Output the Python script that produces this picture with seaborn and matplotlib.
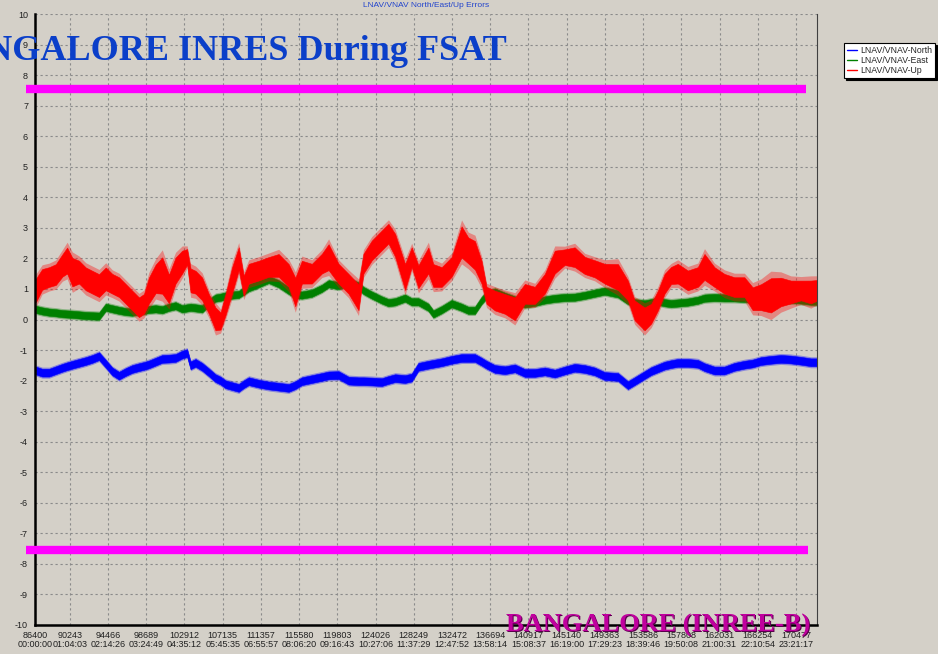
import numpy as np
import pandas as pd
import matplotlib
matplotlib.use("Agg")
import matplotlib.pyplot as plt
import seaborn as sns
from matplotlib.ticker import MultipleLocator, FixedLocator

#%% Data (seconds, metres)

t_sec = [86500, 87190, 87970, 88700, 89430, 89950, 90530, 91270, 92010, 92740,
         93480, 94220, 94940, 95680, 96420, 97150, 97890, 98440, 98990, 99730,
         100460, 101200, 101930, 102660, 103210, 103590, 104140, 104870, 105610, 106340,
         106900, 107450, 108170, 108910, 109460, 110020, 111120, 112220, 113320, 114430,
         115160, 115890, 116990, 118100, 118840, 119940, 121040, 122140, 122690, 123610,
         124710, 125450, 126190, 127290, 128020, 128760, 129860, 130410, 131330, 132430,
         133530, 134270, 135010, 135740, 136290, 137210, 138320, 139420, 140520, 141620,
         142730, 143830, 144930, 146030, 147140, 148240, 149340, 150810, 151910, 152650,
         153750, 154480, 155220, 155960, 156680, 157420, 158530, 159630, 160370, 161470,
         162570, 163670, 164780, 165690, 166610, 167710, 168810, 169910, 171020, 172120,
         172750]

up_mid = [0.95, 1.31, 1.39, 1.47, 1.77, 1.93, 1.55, 1.55, 1.33, 1.22,
          1.11, 1.33, 1.17, 1.06, 0.84, 0.62, 0.40, 0.51, 0.95, 1.33,
          1.44, 1.00, 1.60, 1.88, 2.05, 1.28, 1.22, 1.00, 0.51, 0.02,
          -0.05, 0.48, 1.28, 1.99, 1.11, 1.50, 1.60, 1.72, 1.77, 1.44,
          0.90, 1.55, 1.50, 1.83, 2.04, 1.50, 1.17, 0.73, 1.83, 2.26,
          2.59, 2.81, 2.43, 1.39, 2.04, 1.40, 1.93, 1.44, 1.39, 1.72,
          2.54, 2.26, 2.10, 1.55, 0.79, 0.62, 0.51, 0.35, 0.84, 0.79,
          1.17, 1.88, 2.04, 2.04, 1.77, 1.66, 1.50, 1.39, 0.95, 0.30,
          0.02, 0.19, 0.62, 1.17, 1.44, 1.50, 1.28, 1.39, 1.72, 1.39,
          1.17, 1.06, 1.06, 0.68, 0.73, 0.79, 0.90, 0.90, 0.95, 0.90,
          0.95]

up_half = [0.45, 0.40, 0.38, 0.40, 0.43, 0.50, 0.55, 0.44, 0.44, 0.44,
           0.44, 0.44, 0.38, 0.38, 0.38, 0.38, 0.38, 0.38, 0.50, 0.55,
           0.70, 0.55, 0.50, 0.44, 0.30, 0.46, 0.44, 0.44, 0.38, 0.44,
           0.33, 0.40, 0.50, 0.44, 0.38, 0.38, 0.38, 0.38, 0.44, 0.44,
           0.55, 0.44, 0.38, 0.38, 0.50, 0.38, 0.38, 0.50, 0.38, 0.38,
           0.38, 0.38, 0.44, 0.50, 0.38, 0.44, 0.50, 0.44, 0.38, 0.38,
           0.60, 0.50, 0.55, 0.44, 0.33, 0.38, 0.38, 0.44, 0.38, 0.33,
           0.38, 0.44, 0.30, 0.38, 0.33, 0.33, 0.38, 0.50, 0.38, 0.38,
           0.44, 0.38, 0.38, 0.38, 0.33, 0.38, 0.38, 0.38, 0.50, 0.38,
           0.38, 0.38, 0.38, 0.44, 0.50, 0.66, 0.55, 0.44, 0.38, 0.44,
           0.40]

east_mid = [0.33, 0.28, 0.24, 0.22, 0.19, 0.18, 0.17, 0.15, 0.13, 0.12,
            0.11, 0.40, 0.35, 0.30, 0.26, 0.24, 0.28, 0.30, 0.33, 0.35,
            0.32, 0.40, 0.45, 0.35, 0.38, 0.40, 0.38, 0.35, 0.55, 0.70,
            0.73, 0.77, 0.80, 0.82, 0.93, 1.04, 1.17, 1.31, 1.17, 0.95,
            0.82, 0.80, 0.86, 1.02, 1.17, 1.11, 1.22, 1.10, 0.95, 0.80,
            0.64, 0.55, 0.58, 0.70, 0.58, 0.58, 0.40, 0.18, 0.32, 0.52,
            0.40, 0.30, 0.30, 0.62, 0.80, 0.90, 0.76, 0.64, 0.51, 0.56,
            0.64, 0.69, 0.72, 0.73, 0.79, 0.86, 0.93, 0.84, 0.62, 0.55,
            0.51, 0.55, 0.60, 0.55, 0.52, 0.54, 0.57, 0.63, 0.70, 0.72,
            0.71, 0.71, 0.69, 0.67, 0.66, 0.66, 0.66, 0.66, 0.64, 0.60,
            0.60]

north_mid = [-1.67, -1.74, -1.74, -1.66, -1.58, -1.53, -1.48, -1.42, -1.36, -1.29,
             -1.20, -1.45, -1.70, -1.84, -1.72, -1.62, -1.56, -1.52, -1.47, -1.38,
             -1.29, -1.28, -1.26, -1.15, -1.10, -1.50, -1.42, -1.55, -1.73, -1.92,
             -2.00, -2.12, -2.18, -2.24, -2.12, -2.02, -2.10, -2.16, -2.20, -2.24,
             -2.15, -2.02, -1.95, -1.88, -1.83, -1.82, -2.00, -2.02, -2.02, -2.03,
             -2.05, -1.98, -1.92, -1.95, -1.90, -1.55, -1.48, -1.45, -1.40, -1.32,
             -1.26, -1.26, -1.26, -1.38, -1.48, -1.62, -1.66, -1.60, -1.75, -1.75,
             -1.70, -1.77, -1.67, -1.58, -1.62, -1.70, -1.85, -1.88, -2.15, -2.02,
             -1.82, -1.69, -1.60, -1.51, -1.46, -1.42, -1.42, -1.45, -1.56, -1.67,
             -1.67, -1.55, -1.48, -1.44, -1.36, -1.32, -1.29, -1.31, -1.35, -1.40,
             -1.40]

east_half = 0.14
north_half = 0.15

tick_sec = [86400, 90243, 94466, 98689, 102912, 107135, 111357, 115580, 119803,
            124026, 128249, 132472, 136694, 140917, 145140, 149363, 153586,
            157808, 162031, 166254, 170477]
tick_time = ["00:00:00", "01:04:03", "02:14:26", "03:24:49", "04:35:12", "05:45:35",
             "06:55:57", "08:06:20", "09:16:43", "10:27:06", "11:37:29", "12:47:52",
             "13:58:14", "15:08:37", "16:19:00", "17:29:23", "18:39:46", "19:50:08",
             "21:00:31", "22:10:54", "23:21:17"]

limit_up = 7.56
limit_down = -7.53

#%% Plot

bg = "#d4d0c8"
sns.set_style("white")
plt.rcParams["font.family"] = ["Liberation Sans", "DejaVu Sans"]
plt.rcParams["axes.unicode_minus"] = False

fig = plt.figure(figsize=(9.38, 6.54), dpi=100, facecolor=bg)
ax = fig.add_axes([35/938, 1-625/654, (817-35)/938, (625-14)/654])
ax.set_facecolor(bg)

names = ["LNAV/VNAV-North", "LNAV/VNAV-East", "LNAV/VNAV-Up"]
colors = {"LNAV/VNAV-North": "#0000ff", "LNAV/VNAV-East": "#008000", "LNAV/VNAV-Up": "#ff0000"}

df = pd.DataFrame({
    "t": t_sec * 3,
    "err": north_mid + east_mid + up_mid,
    "series": [names[0]]*len(t_sec) + [names[1]]*len(t_sec) + [names[2]]*len(t_sec),
})

t = np.array(t_sec)
n = np.array(north_mid)
e = np.array(east_mid)
u = np.array(up_mid)
uh = np.array(up_half)

# soft outer edge + solid core for each noisy band
for mid, half, col, z in [(n, north_half, "#0000ff", 2.0),
                          (e, east_half, "#008000", 2.1),
                          (u, uh, "#ff0000", 2.3)]:
    ax.fill_between(t, mid - half*1.2, mid + half*1.2, color=col, alpha=0.35, lw=0, zorder=z)
    ax.fill_between(t, mid - half*0.85, mid + half*0.85, color=col, lw=0.4, zorder=z)

sns.lineplot(data=df, x="t", y="err", hue="series", hue_order=names,
             palette=colors, linewidth=0.8, ax=ax, sort=True)
for line, z in zip(ax.lines, [2.05, 2.15, 2.35]):
    line.set_zorder(z)

# magenta limit bars
ax.hlines([limit_up], 85430, 171530, colors="#ff00ff", lw=6, clip_on=False, zorder=4)
ax.hlines([limit_down], 85430, 171860, colors="#ff00ff", lw=6, clip_on=False, zorder=4)

ax.set_xlim(86400, 172800)
ax.set_ylim(-10, 10)
ax.xaxis.set_major_locator(FixedLocator(tick_sec))
ax.set_xticklabels([f"{s}\n{h}" for s, h in zip(tick_sec, tick_time)],
                   fontsize=6.5, linespacing=1.05)
ax.yaxis.set_major_locator(MultipleLocator(1))
ax.yaxis.set_minor_locator(MultipleLocator(0.2))
ax.tick_params(axis="y", labelsize=6.5, length=3, width=0.8, direction="out", pad=2, colors="#202020")
ax.tick_params(axis="y", which="minor", length=1.5, width=0.5, direction="out")
ax.tick_params(axis="x", length=2, width=0.6, direction="out", pad=2, colors="#202020")
ax.set_xlabel("")
ax.set_ylabel("")

ax.grid(True, color="#8a8a8a", ls=(0, (2, 2.5)), lw=0.8)
ax.spines["top"].set_visible(False)
ax.spines["left"].set_linewidth(1.8)
ax.spines["bottom"].set_linewidth(1.8)
ax.spines["right"].set_linewidth(0.8)
ax.spines["right"].set_color("#404040")
for s in ["left", "bottom"]:
    ax.spines[s].set_color("black")

ax.set_title("LNAV/VNAV North/East/Up Errors", fontsize=6, color="#2244cc", pad=5)

sns.move_legend(ax, loc="upper left", bbox_to_anchor=(1.0345, 0.9525), title=None,
                fontsize=6.3, frameon=True, fancybox=False, edgecolor="black",
                facecolor="white", framealpha=1, borderpad=0.35, labelspacing=0.12,
                handlelength=1.1, handletextpad=0.4, borderaxespad=0,
                shadow={"color": "black", "alpha": 1, "ox": 1.5, "oy": -1.5})
leg = ax.get_legend()
leg.get_frame().set_linewidth(0.8)
for h in leg.get_lines():
    h.set_linewidth(1.0)

# big annotation texts
fig.text(507/938, 1-60/654, "BANGALORE INRES During FSAT", ha="right", va="baseline",
         family=["Liberation Serif", "DejaVu Serif"], weight="bold", fontsize=26.0,
         color="#0b3fc9")
fig.text(811/938, 1-633/654, "BANGALORE (INREE-B)", ha="right", va="baseline",
         family=["Liberation Serif", "DejaVu Serif"], weight="bold", fontsize=19,
         color="#5a004c", zorder=5)
fig.text(810/938, 1-632/654, "BANGALORE (INREE-B)", ha="right", va="baseline",
         family=["Liberation Serif", "DejaVu Serif"], weight="bold", fontsize=19,
         color="#c0009e", zorder=6)

plt.savefig("out.png", dpi=100, facecolor=bg)
